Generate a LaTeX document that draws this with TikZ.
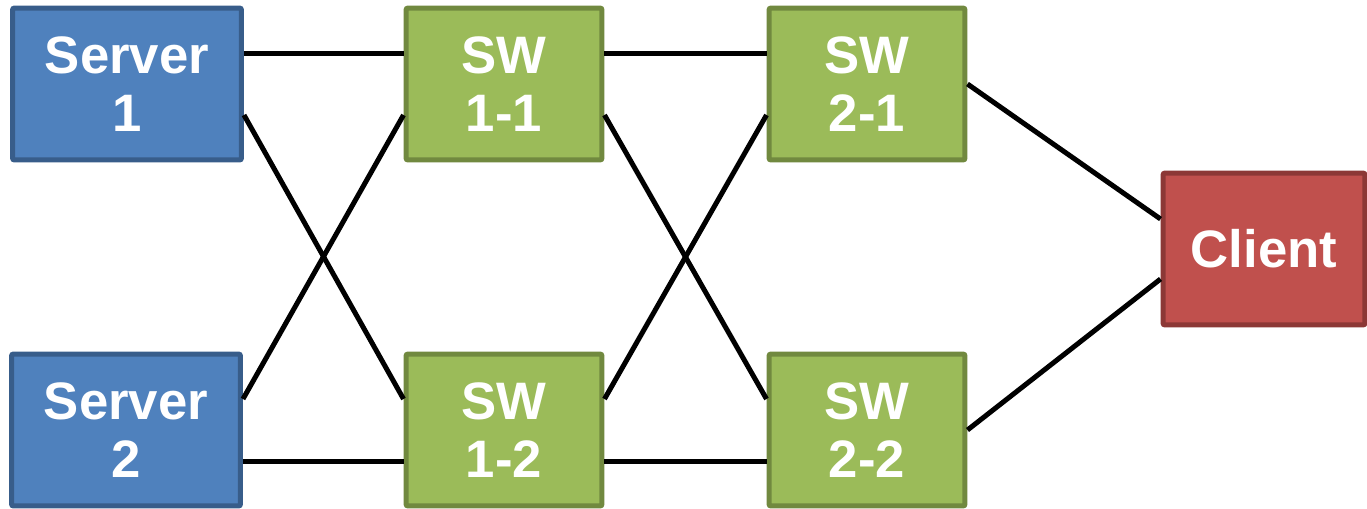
\documentclass[tikz,border=0pt]{standalone}
\usepackage{fontspec}
\setmainfont{Liberation Sans}
\begin{document}
\begin{tikzpicture}[x=0.02cm,y=-0.02cm,
  box/.style={draw, line width=0.1cm, rounded corners=0.04cm, align=center,
    text=white, font=\fontsize{30pt}{33pt}\selectfont\bfseries,
    inner sep=0pt, minimum height=3.04cm},
  server/.style={box, fill=srvfill, draw=srvline, minimum width=4.58cm},
  switch/.style={box, fill=swfill, draw=swline, minimum width=3.92cm},
  client/.style={box, fill=clfill, draw=clline, minimum width=4.04cm},
  link/.style={line width=0.1cm, black}]
\definecolor{srvfill}{HTML}{4F81BD}
\definecolor{srvline}{HTML}{385D8A}
\definecolor{swfill}{HTML}{9BBB59}
\definecolor{swline}{HTML}{71893F}
\definecolor{clfill}{HTML}{C0504D}
\definecolor{clline}{HTML}{8C3836}
\useasboundingbox (0,0) rectangle (1367,508);

% nodes
\node[server] (s1) at (127,84) {Server\\1};
\node[server] (s2) at (126,430) {Server\\2};
\node[switch] (w11) at (504,84) {SW\\1-1};
\node[switch] (w12) at (504,430) {SW\\1-2};
\node[switch] (w21) at (867,84) {SW\\2-1};
\node[switch] (w22) at (867,430) {SW\\2-2};
\node[client] (c) at (1264,249) {Client};

% first stage
\draw[link] ([yshift=0.62cm]s1.east) -- ([yshift=0.62cm]w11.west);
\draw[link] ([yshift=-0.62cm]s1.east) -- ([yshift=0.62cm]w12.west);
\draw[link] ([yshift=0.62cm]s2.east) -- ([yshift=-0.62cm]w11.west);
\draw[link] ([yshift=-0.62cm]s2.east) -- ([yshift=-0.62cm]w12.west);
% second stage
\draw[link] ([yshift=0.62cm]w11.east) -- ([yshift=0.62cm]w21.west);
\draw[link] ([yshift=-0.62cm]w11.east) -- ([yshift=0.62cm]w22.west);
\draw[link] ([yshift=0.62cm]w12.east) -- ([yshift=-0.62cm]w21.west);
\draw[link] ([yshift=-0.62cm]w12.east) -- ([yshift=-0.62cm]w22.west);
% to the client
\draw[link] (w21.east) -- ([yshift=0.6cm]c.west);
\draw[link] (w22.east) -- ([yshift=-0.6cm]c.west);
\end{tikzpicture}
\end{document}
